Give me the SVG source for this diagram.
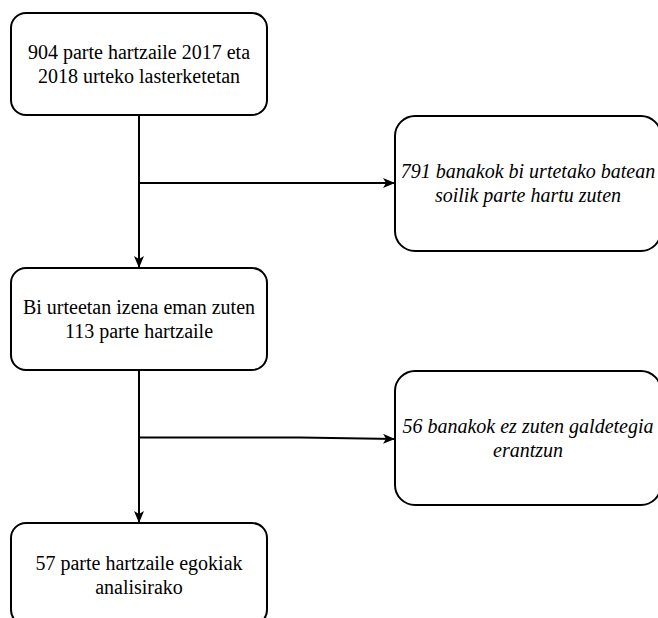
<svg xmlns="http://www.w3.org/2000/svg" width="658" height="618" viewBox="0 0 658 618">
  <style>
    .box { fill: #ffffff; stroke: #000000; stroke-width: 2; }
    .edge { fill: none; stroke: #000000; stroke-width: 2; }
    .t { font-family: "Liberation Serif", "Times New Roman", serif; font-size: 20px; fill: #000000; text-anchor: middle; }
    .ti { font-style: italic; }
  </style>
  <defs>
    <marker id="arr" viewBox="0 0 12 10" refX="12" refY="5" markerWidth="12" markerHeight="10" markerUnits="userSpaceOnUse" orient="auto">
      <path d="M0,0 L12,5 L0,10 L3,5 Z" fill="#000000"/>
    </marker>
  </defs>
  <rect width="658" height="618" fill="#ffffff"/>
  <g id="connectors">
    <path class="edge" d="M139 115 V268" marker-end="url(#arr)"/>
    <path class="edge" d="M139 183 H395" marker-end="url(#arr)"/>
    <path class="edge" d="M139 370 V523" marker-end="url(#arr)"/>
    <path class="edge" d="M139 437.5 H300 L395 439" marker-end="url(#arr)"/>
  </g>
  <g id="node1">
    <rect class="box" x="11" y="13" width="256" height="102" rx="15"/>
    <text class="t" x="139" y="59">904 parte hartzaile 2017 eta</text>
    <text class="t" x="139" y="83">2018 urteko lasterketetan</text>
  </g>
  <g id="node2">
    <rect class="box" x="395" y="116" width="266" height="135" rx="20"/>
    <text class="t ti" x="528" y="178">791 banakok bi urtetako batean</text>
    <text class="t ti" x="528" y="202">soilik parte hartu zuten</text>
  </g>
  <g id="node3">
    <rect class="box" x="11" y="268" width="256" height="102" rx="15"/>
    <text class="t" x="139" y="314">Bi urteetan izena eman zuten</text>
    <text class="t" x="139" y="338">113 parte hartzaile</text>
  </g>
  <g id="node4">
    <rect class="box" x="395" y="371" width="266" height="134" rx="20"/>
    <text class="t ti" x="528" y="433">56 banakok ez zuten galdetegia</text>
    <text class="t ti" x="528" y="457">erantzun</text>
  </g>
  <g id="node5">
    <rect class="box" x="11" y="523" width="256" height="102" rx="15"/>
    <text class="t" x="139" y="570">57 parte hartzaile egokiak</text>
    <text class="t" x="139" y="594">analisirako</text>
  </g>
</svg>
